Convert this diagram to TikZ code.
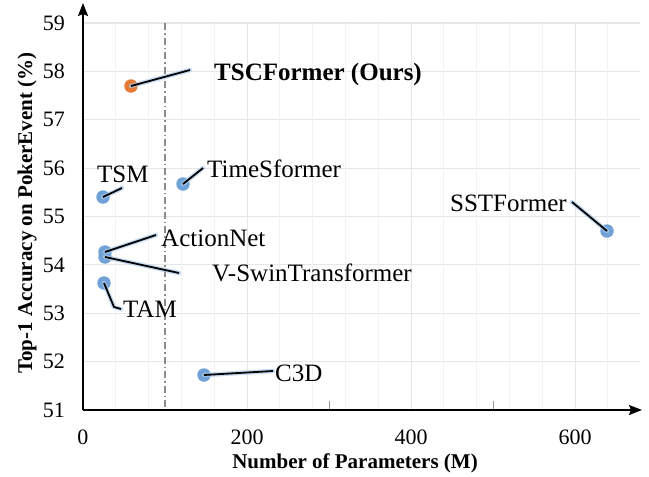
\documentclass[tikz,border=0pt]{standalone}
\usepackage{fontspec}
\setmainfont{Liberation Serif}
\usetikzlibrary{arrows.meta}

\definecolor{dotblue}{RGB}{112,162,216}
\definecolor{dotorange}{RGB}{232,121,52}
\definecolor{glowblue}{RGB}{170,204,238}
\definecolor{gridminor}{RGB}{242,242,242}
\definecolor{gridmajor}{RGB}{230,230,230}

\tikzset{
  gridh/.style={draw=gridmajor, line width=1.2pt},
  gridv/.style={draw=gridminor, line width=0.9pt},
  gridvmajor/.style={draw=gridmajor, line width=1pt},
  axisline/.style={line width=1.7pt, -{Stealth[length=13pt, width=10pt, inset=2pt]}},
  ticklabel/.style={font=\fontsize{22}{24}\selectfont, inner sep=0pt},
  axistitle/.style={font=\fontsize{21}{24}\selectfont\bfseries, inner sep=0pt},
  datadot/.style={circle, fill=dotblue, minimum size=13.5pt, inner sep=0pt},
  ourdot/.style={circle, fill=dotorange, minimum size=13.5pt, inner sep=0pt},
  datalabel/.style={font=\fontsize{25}{28}\selectfont, inner sep=0pt, text height=16.5pt, text depth=0pt},
  leaderglow/.style={draw=glowblue, line width=4.5pt, opacity=0.7, line cap=round, line join=round},
  leader/.style={draw=black, line width=1.8pt, line join=round},
  refline/.style={draw=gray!90, line width=1.1pt, dash pattern=on 7pt off 3pt on 1.5pt off 3pt},
  minortick/.style={draw=gray!80, line width=1pt}
}

\begin{document}
\begin{tikzpicture}[x=1pt, y=-1pt]
\useasboundingbox (0,0) rectangle (649,477);

% horizontal grid at 52 ... 59
\foreach \k in {1,...,8}
  \draw[gridh] (84,{410-48.375*\k}) -- (640,{410-48.375*\k});
% vertical grid every 40 M
\foreach \i in {1,...,16}
  \draw[gridv] ({83+32.8*\i},23) -- ({83+32.8*\i},409);
\foreach \i in {5,10,15}
  \draw[gridvmajor] ({83+32.8*\i},23) -- ({83+32.8*\i},409);

% reference line at 100 M
\draw[refline] (165,23) -- (165,409);

% small ticks at 300 and 500
\draw[minortick] (329,401) -- (329,410);
\draw[minortick] (493,401) -- (493,410);

% axes
\coordinate (origin) at (83,410);
\coordinate (xend) at (642,410);
\coordinate (yend) at (83,3);
\draw[axisline] (origin) -- (xend);
\draw[axisline] (origin) -- (yend);

% y tick labels
\foreach \v [count=\k from 0] in {51,...,59}
  \node[ticklabel, anchor=east] (yl\v) at (65,{410-48.375*\k}) {\v};
% x tick labels
\node[ticklabel] (xl0) at (83,437) {0};
\node[ticklabel] (xl200) at (247,437) {200};
\node[ticklabel] (xl400) at (411,437) {400};
\node[ticklabel] (xl600) at (575,437) {600};

% axis titles
\node[axistitle] (xtitle) at (355,463) {Number of Parameters (M)};
\node[axistitle, rotate=90] (ytitle) at (27,213) {Top-1 Accuracy on PokerEvent (\%)};

% data points
\node[datadot] (tsm) at (103,197) {};
\node[datadot] (tsf) at (183,184) {};
\node[datadot] (act) at (105,252) {};
\node[datadot] (vsw) at (105,257) {};
\node[datadot] (tam) at (104,283) {};
\node[datadot] (c3d) at (204,375) {};
\node[datadot] (sst) at (607,231) {};
\node[ourdot] (tsc) at (131,86) {};

% leader ends
\coordinate (tscE) at (190,70);
\coordinate (tsmE) at (122,188);
\coordinate (tsfE) at (203,168);
\coordinate (actE) at (156,235);
\coordinate (vswE) at (179,273);
\coordinate (tamK) at (114,307);
\coordinate (tamE) at (121,309);
\coordinate (c3dE) at (273,371);
\coordinate (sstE) at (572,202);

% leaders: soft glow underneath, black line on top
\foreach \a/\b in {tsc/tscE, tsm/tsmE, tsf/tsfE, act/actE, vsw/vswE, c3d/c3dE, sst/sstE}
  \draw[leaderglow] (\a.center) -- (\b);
\draw[leaderglow] (tam.center) -- (tamK) -- (tamE);
\foreach \a/\b in {tsc/tscE, tsm/tsmE, tsf/tsfE, act/actE, vsw/vswE, c3d/c3dE, sst/sstE}
  \draw[leader] (\a.center) -- (\b);
\draw[leader] (tam.center) -- (tamK) -- (tamE);

% labels
\node[datalabel, anchor=west, font=\fontsize{25}{28}\selectfont\bfseries] (tscL) at (214,72) {TSCFormer (Ours)};
\node[datalabel, anchor=west] (tsmL) at (97,174) {TSM};
\node[datalabel, anchor=west] (tsfL) at (207,169) {TimeSformer};
\node[datalabel, anchor=west] (actL) at (161,238) {ActionNet};
\node[datalabel, anchor=west] (vswL) at (212,273) {V-SwinTransformer};
\node[datalabel, anchor=west] (tamL) at (123,309.5) {TAM};
\node[datalabel, anchor=west] (c3dL) at (275,373) {C3D};
\node[datalabel, anchor=east] (sstL) at (567,203.5) {SSTFormer};
\end{tikzpicture}
\end{document}
